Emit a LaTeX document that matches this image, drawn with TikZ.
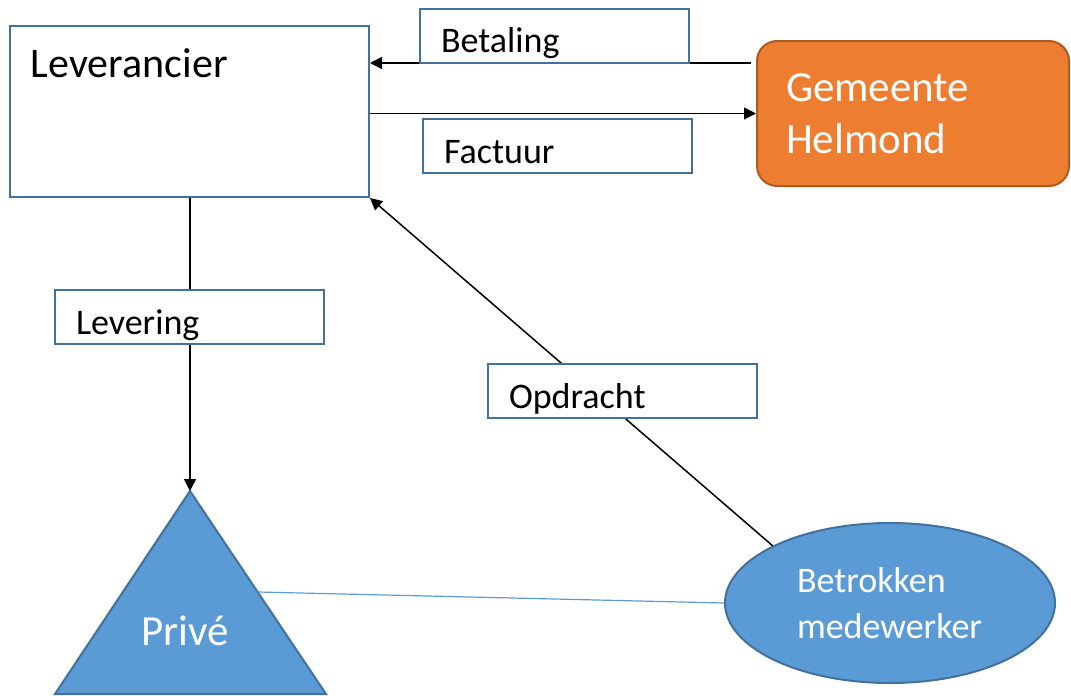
\documentclass[tikz,border=0pt]{standalone}
\usepackage{fontspec}
\setmainfont{Carlito}
\usetikzlibrary{positioning,shapes.geometric,arrows.meta,calc}
\definecolor{boxblue}{HTML}{41719C}
\definecolor{fillblue}{HTML}{5B9BD5}
\definecolor{fillorange}{HTML}{ED7D31}
\definecolor{lineorange}{HTML}{AE5A21}

\begin{document}
\begin{tikzpicture}[x=0.5pt,y=-0.5pt,
  conn/.style={draw=black,line width=0.75pt,-{Triangle[length=6pt,width=6pt]}},
  flowlabel/.style={draw=boxblue,line width=1pt,fill=white,anchor=north west,
    inner xsep=10.5pt,inner ysep=0pt,text width=113.5pt,align=left,
    text height=22pt,text depth=5pt,font=\fontsize{18}{22}\selectfont}]
\useasboundingbox (0,0) rectangle (1071,696);
\node(lev)[draw=boxblue,line width=1pt,anchor=north west,inner xsep=10.5pt,inner ysep=0pt,
  text width=158.5pt,align=left,text height=25.5pt,text depth=60pt,
  font=\fontsize{21}{26}\selectfont] at (9,25) {Leverancier};
\node(gem)[draw=lineorange,fill=fillorange,line width=1pt,rounded corners=10pt,
  minimum width=156pt,minimum height=72.5pt,text width=127pt,align=left,text=white,
  font=\fontsize{21.5}{26}\selectfont] at (913,113.5) {Gemeente\\Helmond};
\node(med)[ellipse,draw=boxblue,fill=fillblue,line width=1pt,inner sep=0pt,
  minimum width=165pt,minimum height=80pt,text width=93pt,align=left,text=white,
  font=\fontsize{18}{23}\selectfont] at (890,603) {Betrokken\\medewerker};
% triangle
\coordinate(apex) at (190,491);
\coordinate(bl) at (55,694);
\coordinate(br) at (326,694);
\draw[draw=boxblue,fill=fillblue,line width=1pt,line join=miter] (apex) -- (bl) -- (br) -- cycle;
\node(prive)[anchor=base,text=white,font=\fontsize{21.5}{26}\selectfont] at (185,645) {Privé};
\coordinate(side) at ($(apex)!0.4975!(br)$);
% connectors
\draw[fillblue,line width=0.6pt] (side) -- (med.west);
\draw[conn] (lev.south -| apex) -- (apex);
\draw[conn] (med.154) -- (lev.south east);
\draw[conn] ([xshift=-2.5pt]gem.west |- 0,63) -- (lev.east |- 0,63);
\draw[conn] (lev.east |- gem.west) -- (gem.west);
% labels
\node(bet)[flowlabel] at (419,8) {Betaling};
\node(fac)[flowlabel] at (422,118) {Factuur};
\node(levr)[flowlabel] at (54,289) {Levering};
\node(opd)[flowlabel] at (487,363) {Opdracht};
\end{tikzpicture}
\end{document}
